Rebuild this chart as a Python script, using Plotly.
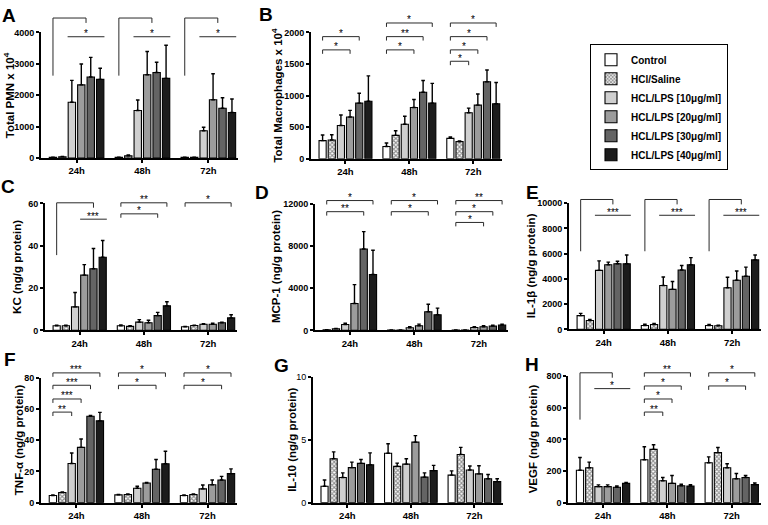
import plotly.graph_objects as go

W, H = 768, 525
FONT = "Liberation Sans, Arial, sans-serif"

times = ["24h", "48h", "72h"]
time_pos = [0, 1, 2]
groups = ["Control", "HCl/Saline", "HCL/LPS [10μg/ml]", "HCL/LPS [20μg/ml]",
          "HCL/LPS [30μg/ml]", "HCL/LPS [40μg/ml]"]

# ---- data: rows = time point (24h, 48h, 72h), columns = groups ----
pmn_mean = [[20, 40, 1775, 2330, 2580, 2506],
            [20, 70, 1514, 2653, 2726, 2538],
            [20, 20, 867, 1859, 1587, 1452]]
pmn_sem = [[8, 12, 700, 667, 626, 356],
           [5, 30, 335, 741, 324, 1055],
           [5, 5, 115, 825, 335, 428]]
pmn_ticks = [0, 1000, 2000, 3000, 4000]

mac_mean = [[286, 297, 526, 661, 880, 911],
            [193, 370, 547, 812, 1052, 880],
            [323, 271, 729, 849, 1219, 870]]
mac_sem = [[89, 83, 167, 105, 156, 401],
           [57, 73, 125, 125, 188, 313],
           [21, 10, 73, 177, 187, 338]]
mac_ticks = [0, 500, 1000, 1500, 2000]

kc_mean = [[2.2, 2.2, 11.1, 26.1, 29.1, 34.6],
           [2.2, 1.9, 3.9, 3.6, 7.0, 11.6],
           [1.7, 2.3, 2.9, 2.9, 3.6, 5.9]]
kc_sem = [[0.2, 0.2, 6.8, 5.0, 9.6, 7.9],
          [0.4, 0.3, 1.2, 1.2, 1.5, 1.9],
          [0.2, 0.2, 0.3, 0.5, 0.3, 1.5]]
kc_ticks = [0, 20, 40, 60]

mcp_mean = [[62, 155, 558, 2543, 7721, 5302],
            [31, 31, 248, 434, 1767, 1488],
            [31, 31, 279, 341, 403, 496]]
mcp_sem = [[10, 20, 124, 1798, 1643, 2295],
           [5, 5, 93, 155, 713, 620],
           [5, 5, 62, 93, 93, 93]]
mcp_ticks = [0, 4000, 8000, 12000]

il1b_mean = [[1091, 701, 4675, 5117, 5195, 5195],
             [312, 390, 3481, 3169, 4701, 5117],
             [312, 286, 3299, 3896, 4208, 5506]]
il1b_sem = [[182, 78, 754, 208, 208, 701],
            [104, 78, 675, 623, 364, 571],
            [78, 52, 831, 727, 727, 390]]
il1b_ticks = [0, 2000, 4000, 6000, 8000, 10000]

tnf_mean = [[4.6, 6.5, 25.1, 35.4, 55.3, 52.4],
            [5.0, 5.2, 9.2, 12.6, 21.4, 24.9],
            [4.6, 5.2, 8.8, 11.5, 14.5, 18.6]]
tnf_sem = [[0.4, 0.4, 6.7, 5.4, 0.6, 5.4],
           [0.3, 0.4, 1.3, 0.4, 6.2, 8.0],
           [0.3, 0.4, 2.5, 3.0, 2.3, 3.0]]
tnf_ticks = [0, 20, 40, 60, 80]

il10_mean = [[1.30, 3.49, 2.00, 2.79, 3.13, 3.02],
             [3.93, 2.89, 3.07, 4.82, 2.03, 2.55],
             [2.19, 3.83, 2.60, 2.29, 1.90, 1.67]]
il10_sem = [[0.50, 0.55, 0.37, 0.44, 0.31, 0.94],
            [0.76, 0.26, 0.42, 0.52, 0.34, 0.42],
            [0.34, 0.57, 0.32, 0.65, 0.34, 0.23]]
il10_ticks = [0, 5, 10]

vegf_mean = [[205, 221, 101, 101, 97, 122],
             [271, 337, 138, 122, 107, 105],
             [252, 316, 221, 151, 159, 114]]
vegf_sem = [[80, 35, 11, 11, 8, 6],
            [82, 29, 21, 50, 9, 9],
            [37, 33, 25, 33, 13, 10]]
vegf_ticks = [0, 200, 400, 600, 800]

# significance marks: ("pair", time, bar_a, bar_b, level, label)
#                     ("ctrl", time, line_from, line_to, top, left_bottom, line_level, label)
pmn_sig = [("ctrl", t, 2, 5, 1.115, 0.656, 0.966, "*") for t in range(3)]
mac_sig = [("pair", 0, 0, 3, 0.862, "*"), ("pair", 0, 0, 4, 0.967, "*"),
           ("pair", 1, 0, 3, 0.862, "*"), ("pair", 1, 0, 4, 0.967, "**"), ("pair", 1, 0, 5, 1.075, "*"),
           ("pair", 2, 0, 2, 0.772, "*"), ("pair", 2, 0, 3, 0.862, "*"), ("pair", 2, 0, 4, 0.967, "*"),
           ("pair", 2, 0, 5, 1.075, "*")]
kc_sig = [("ctrl", 0, 3, 5, 1.005, 0.593, 0.876, "***"),
          ("pair", 1, 0, 4, 0.918, "*"), ("pair", 1, 0, 5, 1.005, "**"),
          ("pair", 2, 0, 5, 1.005, "*")]
mcp_sig = [("pair", 0, 0, 4, 0.938, "**"), ("pair", 0, 0, 5, 1.026, "*"),
           ("pair", 1, 0, 4, 0.938, "*"), ("pair", 1, 0, 5, 1.026, "*"),
           ("pair", 2, 0, 3, 0.853, "*"), ("pair", 2, 0, 4, 0.938, "*"), ("pair", 2, 0, 5, 1.026, "**")]
il1b_sig = [("ctrl", t, 2, 5, 1.029, 0.619, 0.904, "***") for t in range(3)]
tnf_sig = [("pair", 0, 0, 2, 0.725, "**"), ("pair", 0, 0, 3, 0.830, "***"),
           ("pair", 0, 0, 4, 0.940, "***"), ("pair", 0, 0, 5, 1.039, "***"),
           ("pair", 1, 0, 4, 0.940, "*"), ("pair", 1, 0, 5, 1.039, "*"),
           ("pair", 2, 0, 4, 0.940, "*"), ("pair", 2, 0, 5, 1.039, "*")]
il10_sig = []
vegf_sig = [("ctrl", 0, 2, 5, 1.026, 0.656, 0.901, "*"),
            ("pair", 1, 0, 2, 0.716, "**"), ("pair", 1, 0, 3, 0.819, "*"),
            ("pair", 1, 0, 4, 0.922, "*"), ("pair", 1, 0, 5, 1.026, "**"),
            ("pair", 2, 0, 4, 0.922, "*"), ("pair", 2, 0, 5, 1.026, "*")]

panels = [
    ("A", pmn_mean, pmn_sem, pmn_ticks, "Total PMN x 10<sup>4</sup>", pmn_sig),
    ("B", mac_mean, mac_sem, mac_ticks, "Total Macrophages x 10<sup>4</sup>", mac_sig),
    ("C", kc_mean, kc_sem, kc_ticks, "KC (ng/g protein)", kc_sig),
    ("D", mcp_mean, mcp_sem, mcp_ticks, "MCP-1 (ng/g protein)", mcp_sig),
    ("E", il1b_mean, il1b_sem, il1b_ticks, "IL-1β (ng/g protein)", il1b_sig),
    ("F", tnf_mean, tnf_sem, tnf_ticks, "TNF-α (ng/g protein)", tnf_sig),
    ("G", il10_mean, il10_sem, il10_ticks, "IL-10 (ng/g protein)", il10_sig),
    ("H", vegf_mean, vegf_sem, vegf_ticks, "VEGF (ng/g protein)", vegf_sig),
]

# ---- layout (pixel boxes: x_left, x_right, y_top, y_bottom) ----
boxes = {"A": (41, 238, 28, 156), "B": (311, 502, 28, 156.7),
         "C": (45, 237, 202.3, 331.7), "D": (315, 508, 202.7, 331.7),
         "E": (569, 761, 202, 330.7), "F": (41, 237, 380, 507.3),
         "G": (313, 503, 379.3, 507.3), "H": (568.3, 760.7, 378.3, 507.3)}
title_x = {"A": 9, "B": 277, "C": 17, "D": 276, "E": 531, "F": 19, "G": 292, "H": 533}
letter_pos = {"A": (9, 11), "B": (266, 10), "C": (8, 185), "D": (262, 191),
              "E": (532, 191), "F": (10, 361), "G": (281, 367), "H": (532, 366)}

fills = ["white", "white", "#cfcfcf", "#9c9c9c", "#646464", "#1c1c1c"]
BARGAP = 0.14
GROUPGAP = 0.22
SLOT = (1 - BARGAP) / len(groups)
XRANGE = [-0.54, 2.45]
BR_COLOR = "#2a2a2a"


def bx(t, i):
    return time_pos[t] - (1 - BARGAP) / 2 + SLOT * (i + 0.5)


def px2fx(p):
    return p / W


def py2fy(p):
    return 1 - p / H


fig = go.Figure()
layout = dict(width=W, height=H, margin=dict(l=0, r=0, t=0, b=0, pad=0),
              paper_bgcolor="white", plot_bgcolor="white",
              barmode="group", bargap=BARGAP, bargroupgap=GROUPGAP,
              font=dict(family=FONT, color="black"))
shapes = []
annotations = []

for k, (letter, mean, sem, ticks, ytitle, sig) in enumerate(panels):
    n = "" if k == 0 else str(k + 1)
    xa, ya = "x" + n, "y" + n
    xl, xr, yt, yb = boxes[letter]
    hpx = yb - yt
    for i, g in enumerate(groups):
        marker = dict(color=fills[i], line=dict(color="black", width=1.1))
        if i == 1:
            marker["pattern"] = dict(shape="x", size=3, solidity=0.6,
                                     fgcolor="#222222", bgcolor="white")
        fig.add_trace(go.Bar(
            x=time_pos, y=[row[i] for row in mean], name=g,
            xaxis=xa, yaxis=ya, marker=marker, legendgroup=g,
            showlegend=(k == 0),
            error_y=dict(type="data", array=[row[i] for row in sem],
                         arrayminus=[0, 0, 0], symmetric=False,
                         color="black", thickness=1.4, width=1.8),
        ))
    tickw = dict(family=FONT, size=9, color="black",
                 weight=("normal" if letter == "G" else "bold"))
    layout["xaxis" + n] = dict(domain=[px2fx(xl), px2fx(xr)], anchor=ya,
                               range=XRANGE, tickvals=time_pos, ticktext=times,
                               showline=True, linewidth=2, linecolor="black",
                               ticks="outside", ticklen=3, tickwidth=2, tickcolor="black",
                               showgrid=False, zeroline=False, fixedrange=True,
                               tickfont=dict(family=FONT, size=9.5, color="black", weight="bold"))
    layout["yaxis" + n] = dict(domain=[py2fy(yb), py2fy(yt)], anchor=xa,
                               range=[0, ticks[-1]], tickvals=ticks,
                               ticktext=[str(v) for v in ticks],
                               showline=True, linewidth=2, linecolor="black",
                               ticks="outside", ticklen=3, tickwidth=2, tickcolor="black",
                               showgrid=False, zeroline=False, fixedrange=True,
                               tickfont=tickw)
    # axis title
    annotations.append(dict(text=ytitle, xref="paper", yref="paper",
                            x=px2fx(title_x[letter]), y=py2fy((yt + yb) / 2),
                            xanchor="center", yanchor="middle", textangle=-90,
                            showarrow=False,
                            font=dict(family=FONT, size=11.5, weight="bold", color="black")))
    lx, ly = letter_pos[letter]
    annotations.append(dict(text=letter, xref="paper", yref="paper",
                            x=px2fx(lx), y=py2fy(ly), xanchor="center", yanchor="middle",
                            showarrow=False,
                            font=dict(family=FONT, size=19, weight="bold", color="black")))
    yd = ya + " domain"
    tick = 4.0 / hpx

    def seg(x0, y0, x1, y1):
        shapes.append(dict(type="line", xref=xa, yref=yd, x0=x0, y0=y0, x1=x1, y1=y1,
                           line=dict(color=BR_COLOR, width=1)))

    def star(x, y, label):
        annotations.append(dict(text=label, xref=xa, yref=yd, x=x, y=y,
                                xanchor="center", yanchor="middle", yshift=3,
                                showarrow=False,
                                font=dict(family=FONT, size=10, color="black")))

    for s in sig:
        if s[0] == "pair":
            _, t, a, b, lev, lab = s
            xa0, xb0 = bx(t, a), bx(t, b)
            seg(xa0, lev, xb0, lev)
            seg(xa0, lev, xa0, lev - tick)
            seg(xb0, lev, xb0, lev - tick)
            star((xa0 + xb0) / 2, lev, lab)
        else:
            _, t, j0, j1, top, bot, line_lev, lab = s
            x0 = bx(t, j0) - SLOT * 0.45
            x1 = bx(t, j1) + SLOT * 0.45
            xm = (x0 + x1) / 2
            xc = bx(t, 0)
            seg(xc, bot, xc, top)
            seg(xc, top, xm, top)
            seg(xm, top, xm, top - 1.25 * tick)
            seg(x0, line_lev, x1, line_lev)
            star(xm, line_lev, lab)

layout["shapes"] = shapes
layout["annotations"] = annotations
layout["legend"] = dict(x=px2fx(590), y=py2fy(40), xanchor="left", yanchor="top",
                        bordercolor="black", borderwidth=1, bgcolor="white",
                        tracegroupgap=0, itemwidth=30,
                        font=dict(family=FONT, size=10, weight="bold", color="black"))
fig.update_layout(**layout)
fig.write_html("out.html", config={"displayModeBar": False},
               post_script="document.body.style.margin='0';document.body.style.overflow='hidden';")
